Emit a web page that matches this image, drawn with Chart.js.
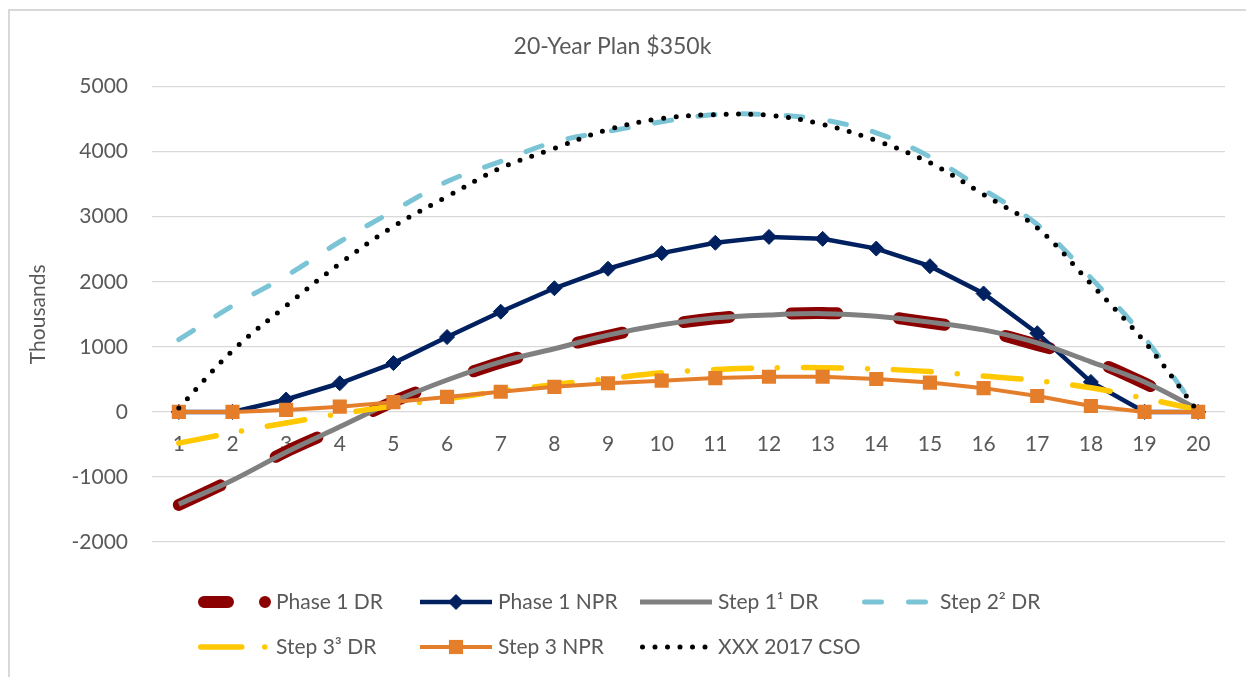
<!DOCTYPE html>
<html>
<head>
<meta charset="utf-8">
<title>20-Year Plan $350k</title>
<script src="https://cdn.jsdelivr.net/npm/chart.js@4.4.1/dist/chart.umd.min.js"></script>
<style>
  html,body{margin:0;padding:0;background:#fff;overflow:hidden;}
  #wrap{position:relative;width:1246px;height:677px;}
  #frame{position:absolute;left:8px;top:9px;width:1400px;height:800px;border:2px solid #d9d9d9;pointer-events:none;}
</style>
</head>
<body>
<div id="wrap">
  <canvas id="chart" width="1246" height="677"></canvas>
  <div id="frame"></div>
</div>
<script>
// values in thousands
const years = ["1","2","3","4","5","6","7","8","9","10","11","12","13","14","15","16","17","18","19","20"];
const yTicks = [-2000, -1000, 0, 1000, 2000, 3000, 4000, 5000];

const phase1DR  = [-1430, -1040, -610, -240, 160, 480, 760, 980, 1170, 1330, 1440, 1500, 1520, 1480, 1370, 1250, 1030, 800, 440, 20];
const phase1NPR = [0, 0, 190, 440, 750, 1150, 1540, 1900, 2200, 2440, 2600, 2690, 2660, 2510, 2240, 1820, 1210, 460, 0, 0];
const step1DR   = [-1420, -1050, -620, -230, 160, 490, 770, 970, 1180, 1340, 1445, 1490, 1510, 1470, 1380, 1260, 1060, 770, 460, 40];
const step2DR   = [1110, 1630, 2090, 2615, 3090, 3540, 3850, 4150, 4310, 4460, 4570, 4570, 4490, 4290, 3920, 3415, 2880, 2060, 1140, 0];
const step3DR   = [-480, -320, -170, -30, 90, 200, 320, 420, 510, 600, 650, 675, 680, 660, 620, 550, 480, 370, 210, 30];
const step3NPR  = [0, 0, 30, 80, 150, 230, 310, 385, 440, 480, 520, 540, 540, 505, 450, 365, 245, 90, 0, 0];
const cso2017   = [60, 940, 1630, 2280, 2850, 3310, 3750, 4050, 4340, 4510, 4570, 4560, 4420, 4170, 3830, 3340, 2830, 1970, 1080, 0];

const TXT = "#595959";
const FONT = "Lato";

// legend drawn like Excel: fixed columns, two rows
const excelLegend = {
  id: "excelLegend",
  afterDraw(chart){
    const ctx = chart.ctx;
    const cols = [198, 420, 640, 862];
    const rows = [602, 647];
    chart.data.datasets.forEach((ds, i) => {
      const x0 = cols[i % 4], y = rows[Math.floor(i / 4)];
      ctx.save();
      ctx.strokeStyle = ds.borderColor;
      ctx.lineWidth = ds.borderWidth;
      ctx.lineCap = ds.borderCapStyle || "butt";
      ctx.setLineDash(ds.legendDash || ds.borderDash || []);
      const cap = ctx.lineCap === "round" ? ds.borderWidth / 2 : 0;
      ctx.beginPath();
      ctx.moveTo(x0 + cap, y);
      ctx.lineTo(x0 + 72, y);
      ctx.stroke();
      ctx.setLineDash([]);
      if(ds.pointRadius > 0){
        ctx.fillStyle = ds.backgroundColor;
        ctx.strokeStyle = ds.borderColor;
        ctx.lineWidth = ds.pointBorderWidth || 0;
        Chart.helpers.drawPoint(ctx, {pointStyle: ds.pointStyle, radius: ds.pointRadius, borderWidth: ds.pointBorderWidth || 0, rotation: 0}, x0 + 36, y);
      }
      ctx.fillStyle = TXT;
      ctx.font = `21px ${FONT}`;
      ctx.textAlign = "left";
      ctx.textBaseline = "middle";
      ctx.fillText(ds.label, x0 + 78, y);
      ctx.restore();
    });
  }
};

function buildChart(){
  Chart.defaults.font.family = FONT;
  Chart.defaults.color = TXT;

  const datasets = [
    { label:"Phase 1 DR", data:phase1DR, borderColor:"#8B0000", backgroundColor:"#8B0000", borderWidth:12,
      borderDash:[46,62], legendDash:[24,37,0,200], borderCapStyle:"round", borderJoinStyle:"round",
      tension:0.3, pointRadius:0, order:6 },
    { label:"Phase 1 NPR", data:phase1NPR, borderColor:"#002060", backgroundColor:"#002060", borderWidth:4.5,
      pointStyle:"rectRot", pointRadius:7.5, pointBorderWidth:1, tension:0, order:5 },
    { label:"Step 1\u00b9 DR", data:step1DR, borderColor:"#808080", backgroundColor:"#808080", borderWidth:5,
      tension:0.35, pointRadius:0, order:4 },
    { label:"Step 2\u00b2 DR", data:step2DR, borderColor:"#7BC4D6", backgroundColor:"#7BC4D6", borderWidth:5,
      borderDash:[17,27], borderCapStyle:"round", tension:0.35, pointRadius:0, order:3 },
    { label:"Step 3\u00b3 DR", data:step3DR, borderColor:"#FFC800", backgroundColor:"#FFC800", borderWidth:5.5,
      borderDash:[38,26,0,26], legendDash:[41,23,0,100], borderCapStyle:"round", tension:0.3, pointRadius:0, order:2 },
    { label:"Step 3 NPR", data:step3NPR, borderColor:"#E47E2B", backgroundColor:"#E47E2B", borderWidth:4,
      pointStyle:"rect", pointRadius:10, pointBorderWidth:0, tension:0, order:1 },
    { label:"XXX 2017 CSO", data:cso2017, borderColor:"#000000", backgroundColor:"#000000", borderWidth:5,
      borderDash:[0,12.5], borderCapStyle:"round", tension:0.35, pointRadius:0, order:0 }
  ];

  new Chart(document.getElementById("chart"), {
    type: "line",
    data: { labels: years, datasets },
    plugins: [excelLegend],
    options: {
      responsive:false, animation:false,
      events: [],
      layout: { padding: { left:0, right:21, top:0, bottom:135 } },
      plugins: {
        legend: { display:false },
        tooltip: { enabled:false },
        title: {
          display:true, text:"20-Year Plan $350k", color:TXT,
          font:{ family:FONT, size:23, weight:"normal" },
          padding:{ top:33, bottom:26 }
        }
      },
      scales: {
        x: {
          type:"category", position:{ y:0 }, offset:true,
          grid:{ display:false, drawTicks:false },
          border:{ display:false },
          ticks:{ color:TXT, font:{ size:21 }, padding:20, maxRotation:0, autoSkip:false }
        },
        y: {
          min:-2000, max:5000,
          afterFit(s){ s.width = 152; },
          afterBuildTicks(s){ s.ticks = yTicks.map(v => ({ value:v })); },
          grid:{ color:"#d9d9d9", lineWidth:1.3, drawTicks:false },
          border:{ display:false },
          ticks:{ color:TXT, font:{ size:21 }, padding:24, callback:(v) => String(v) },
          title:{ display:true, text:"Thousands", color:TXT, font:{ size:21 }, padding:{ top:25.4, bottom:0 } }
        }
      }
    }
  });
}

(document.fonts && document.fonts.load ? document.fonts.load(`21px ${FONT}`) : Promise.resolve())
  .then(buildChart, buildChart);
</script>
</body>
</html>
